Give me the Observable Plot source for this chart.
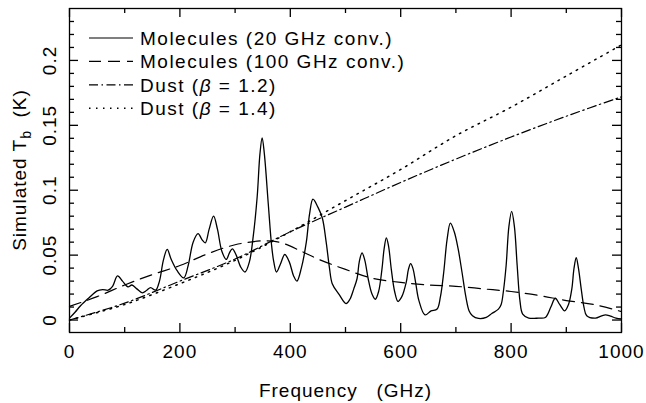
<!DOCTYPE html>
<html><head><meta charset="utf-8">
<script src="https://cdn.jsdelivr.net/npm/d3@7"></script>
<script src="https://cdn.jsdelivr.net/npm/@observablehq/plot@0.6"></script>
<style>
html,body{margin:0;padding:0;background:#fff;}
#chart{width:646px;height:403px;}
</style></head><body><div id="chart"></div>
<script>
// Molecules (20 GHz conv.) – frequency (GHz) and Tb (K)
const freqMol20 = [0,10,20,35,50,60,70,78,87,96,106,113,122,132,140,147,156,163,170,177,184,195,207,215,224,233,240,246,253,261,268,276,284,290,295,302,310,318,326,333,340,345,349,353,360,366,370,375,382,390,398,406,412,420,429,435,441,450,458,465,471,476,488,501,508,515,521,525,530,535,541,548,554,560,566,570,574,578,583,589,595,602,610,614,618,622,627,633,644,655,666,672,678,684,690,697,704,711,718,724,730,741,755,765,777,782,786,791,796,801,806,811,816,821,832,850,862,872,880,888,897,904,910,914,918,922,927,932,937,953,963,971,980,990,1000];
const tbMol20 = [0.0015,0.006,0.011,0.017,0.0225,0.0235,0.023,0.026,0.034,0.030,0.0255,0.027,0.024,0.021,0.023,0.025,0.023,0.030,0.046,0.0545,0.047,0.038,0.0325,0.042,0.060,0.0665,0.062,0.0595,0.070,0.080,0.070,0.053,0.0467,0.052,0.0548,0.050,0.041,0.037,0.045,0.065,0.095,0.128,0.1404,0.128,0.090,0.058,0.045,0.037,0.043,0.0505,0.045,0.034,0.030,0.040,0.060,0.082,0.0931,0.087,0.0786,0.060,0.040,0.028,0.020,0.0127,0.016,0.024,0.032,0.045,0.0518,0.046,0.032,0.020,0.016,0.022,0.039,0.055,0.0633,0.057,0.039,0.022,0.0143,0.018,0.029,0.039,0.0434,0.040,0.029,0.015,0.004,0.007,0.0085,0.018,0.037,0.062,0.0747,0.068,0.055,0.037,0.018,0.007,0.0033,0.0012,0.002,0.005,0.0084,0.012,0.022,0.042,0.072,0.0837,0.072,0.042,0.015,0.0046,0.0015,0.0015,0.002,0.010,0.0168,0.012,0.0071,0.012,0.024,0.040,0.048,0.040,0.024,0.010,0.0033,0.0015,0.003,0.004,0.003,0.0015,0.0008];

// Molecules (100 GHz conv.)
const freqMol100 = [0,50,100,150,200,250,300,350,380,420,450,500,550,600,650,700,750,800,850,900,950,1000];
const tbMol100 = [0.0105,0.018,0.027,0.035,0.042,0.051,0.058,0.061,0.060,0.053,0.047,0.039,0.032,0.029,0.027,0.026,0.024,0.022,0.019,0.015,0.012,0.0065];

// Dust curves
const freqDust = [0,100,200,300,400,500,600,700,800,900,1000];
const tbDust12 = [0,0.013,0.030,0.047,0.068,0.087,0.106,0.124,0.141,0.157,0.172];
const tbDust14 = [0,0.012,0.028,0.046,0.068,0.092,0.116,0.142,0.164,0.188,0.212];

const seriesNames = ["Molecules (20 GHz conv.)","Molecules (100 GHz conv.)","Dust (\u03b2 = 1.2)","Dust (\u03b2 = 1.4)"];
const seriesDash = [null,"12,7","9,3.5,1.5,3.5","1.5,5.5"];

const xTicksMajor = [0,200,400,600,800,1000];
const xTicksMinor = [100,300,500,700,900];
const yTicksMajor = [0,0.05,0.1,0.15,0.2];
const yTickLabels = ["0","0.05","0.1","0.15","0.2"];
const yTicksMinor = [0.01,0.02,0.03,0.04,0.06,0.07,0.08,0.09,0.11,0.12,0.13,0.14,0.16,0.17,0.18,0.19,0.21,0.22,0.23];
const xTitle = "Frequency   (GHz)";

const mol20 = freqMol20.map((f,i)=>({f, t: tbMol20[i]}));
const mol100 = freqMol100.map((f,i)=>({f, t: tbMol100[i]}));
const dust12 = freqDust.map((f,i)=>({f, t: tbDust12[i]}));
const dust14 = freqDust.map((f,i)=>({f, t: tbDust14[i]}));

const W = 646, H = 403, ML = 69, MR = 25, MT = 8, MB = 71;
const PW = W - ML - MR, PH = H - MT - MB;
const MAJ = 9, MIN = 5;
const tk = {stroke: "black", strokeWidth: 1.3};
const chart = Plot.plot({
  width: W, height: H,
  marginLeft: ML, marginRight: MR, marginTop: MT, marginBottom: MB,
  style: {fontFamily: "'Liberation Sans', Arial, sans-serif", fontSize: "19px", letterSpacing: "1px", background: "white", color: "black"},
  x: {domain: [0, 1000], axis: null},
  y: {domain: [-0.0096, 0.240], axis: null},
  marks: [
    Plot.lineY(dust14, {x: "f", y: "t", stroke: "black", strokeWidth: 1.5, strokeDasharray: seriesDash[3], curve: "catmull-rom"}),
    Plot.lineY(dust12, {x: "f", y: "t", stroke: "black", strokeWidth: 1.2, strokeDasharray: seriesDash[2], curve: "catmull-rom"}),
    Plot.lineY(mol100, {x: "f", y: "t", stroke: "black", strokeWidth: 1.2, strokeDasharray: seriesDash[1], curve: "catmull-rom"}),
    Plot.lineY(mol20, {x: "f", y: "t", stroke: "black", strokeWidth: 1.3, curve: "catmull-rom"}),
    // inward tick marks on all four sides
    Plot.tickX(xTicksMajor, {x: d => d, insetTop: PH - MAJ, ...tk}),
    Plot.tickX(xTicksMinor, {x: d => d, insetTop: PH - MIN, ...tk}),
    Plot.tickX(xTicksMajor, {x: d => d, insetBottom: PH - MAJ, ...tk}),
    Plot.tickX(xTicksMinor, {x: d => d, insetBottom: PH - MIN, ...tk}),
    Plot.tickY(yTicksMajor, {y: d => d, insetRight: PW - MAJ, ...tk}),
    Plot.tickY(yTicksMinor, {y: d => d, insetRight: PW - MIN, ...tk}),
    Plot.tickY(yTicksMajor, {y: d => d, insetLeft: PW - MAJ, ...tk}),
    Plot.tickY(yTicksMinor, {y: d => d, insetLeft: PW - MIN, ...tk}),
    Plot.frame({stroke: "black", strokeWidth: 1.3}),
    // tick labels
    Plot.axisX(xTicksMajor, {anchor: "bottom", tickSize: 0, tickPadding: 11.5, tickFormat: d => String(d), label: null}),
    Plot.axisY(yTicksMajor, {anchor: "left", tickSize: 0, tickPadding: 14, tickRotate: -90, tickFormat: d => yTickLabels[yTicksMajor.indexOf(d)], label: null}),
    // x axis title
    Plot.text([xTitle], {frameAnchor: "bottom", text: d => d, dy: 58, lineAnchor: "middle"})
  ]
});
document.getElementById("chart").appendChild(chart);

const svg = d3.select(chart);
// y axis title with subscript
const yt = svg.append("text")
  .attr("transform", "translate(26,170) rotate(-90)")
  .attr("text-anchor", "middle")
  .attr("fill", "black");
yt.append("tspan").text("Simulated T");
yt.append("tspan").attr("dy", 5).attr("font-size", "14px").text("b");
yt.append("tspan").attr("dy", -5).text("  (K)");

// legend
const lg = svg.append("g").attr("class", "legend");
seriesNames.forEach((name, i) => {
  const y = 38 + i * 23.4;
  lg.append("line").attr("x1", 89).attr("x2", 133).attr("y1", y).attr("y2", y)
    .attr("stroke", "black").attr("stroke-width", i === 3 ? 1.5 : 1.2)
    .attr("stroke-dasharray", seriesDash[i]);
  const t = lg.append("text").attr("x", 140).attr("y", y).attr("dy", "0.36em")
    .attr("text-anchor", "start")
    .attr("fill", "black").style("letter-spacing", "1.5px");
  const m = name.match(/^(.*)\u03b2(.*)$/);
  if (m) {
    t.append("tspan").text(m[1]);
    t.append("tspan").attr("font-style", "italic").text("\u03b2");
    t.append("tspan").text(m[2]);
  } else {
    t.text(name);
  }
});
</script>
</body></html>
